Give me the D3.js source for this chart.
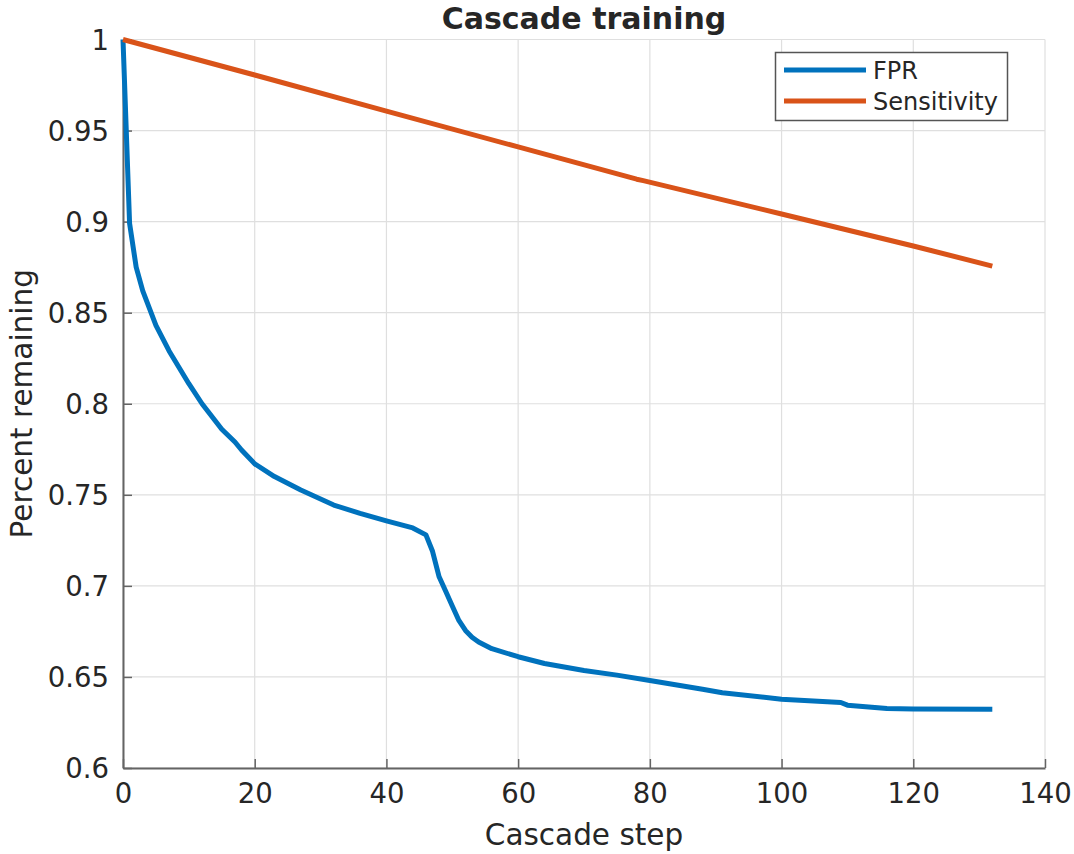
<!DOCTYPE html>
<html><head><meta charset="utf-8">
<script src="https://cdn.jsdelivr.net/npm/d3@7"></script>
<style>
body{margin:0;background:#fff;}
text{font-family:"DejaVu Sans",sans-serif;fill:#262626;}
</style></head>
<body><svg id="c" width="1074" height="854"></svg>
<script>
const fprX = [0,1,2,3,5,7,10,12,15,17,18,20,23,27,32,36,40,44,46,47,48,49,50,51,52,53,54,56,60,64,70,75,80,88,91,100,109,110,116,120,132];
const fprY = [1.0,0.899,0.875,0.862,0.843,0.829,0.811,0.800,0.786,0.779,0.7746,0.767,0.760,0.7526,0.7444,0.7398,0.7357,0.7318,0.728,0.719,0.705,0.697,0.689,0.681,0.6755,0.6718,0.6692,0.6655,0.6611,0.6574,0.6535,0.651,0.648,0.6432,0.6413,0.6378,0.636,0.6345,0.6327,0.6324,0.6322];
const sensX = [0,20,40,60,78,79,100,120,132];
const sensY = [1.0,0.9805,0.9607,0.941,0.9233,0.9225,0.9042,0.8866,0.8756];
const xTicks = [0,20,40,60,80,100,120,140];
const yTicks = [0.6,0.65,0.7,0.75,0.8,0.85,0.9,0.95,1];
const seriesNames = ["FPR","Sensitivity"];
const colors = ["#0072BD","#D95319"];

const svg = d3.select("#c");
const L=123, R=1045, T=39.5, B=768;
const x = d3.scaleLinear().domain([0,140]).range([L,R]);
const y = d3.scaleLinear().domain([0.6,1]).range([B,T]);

// grid
const g = svg.append("g");
g.selectAll(".gx").data(xTicks).join("line")
 .attr("x1",d=>x(d)).attr("x2",d=>x(d)).attr("y1",T).attr("y2",B)
 .attr("stroke","#dfdfdf").attr("stroke-width",1.2);
g.selectAll(".gy").data(yTicks).join("line")
 .attr("y1",d=>y(d)).attr("y2",d=>y(d)).attr("x1",L).attr("x2",R)
 .attr("stroke","#dfdfdf").attr("stroke-width",1.2);

// axes
const xAxis = d3.axisBottom(x).tickValues(xTicks).tickSizeInner(-9).tickSizeOuter(0).tickPadding(18).tickFormat(d3.format("d"));
const yAxis = d3.axisLeft(y).tickValues(yTicks).tickSizeInner(-9).tickSizeOuter(0).tickPadding(14).tickFormat(d=>String(+d.toFixed(2)));
const gx = svg.append("g").attr("transform",`translate(0,${B})`).call(xAxis);
const gy = svg.append("g").attr("transform",`translate(${L},0)`).call(yAxis);
[gx,gy].forEach(a=>{
  a.select(".domain").attr("stroke","#646464").attr("stroke-width",2);
  a.selectAll(".tick line").attr("stroke","#646464").attr("stroke-width",1.5);
  a.selectAll(".tick text").style("font-family","DejaVu Sans").style("font-size","27.5px").attr("fill","#262626");
});
gx.selectAll(".tick text").attr("dy","0.6em");
gy.selectAll(".tick text").attr("dy","0.36em");

// lines
const line = d3.line().x(d=>x(d[0])).y(d=>y(d[1]));
const fprData = fprX.map((v,i)=>[v,fprY[i]]);
const sensData = sensX.map((v,i)=>[v,sensY[i]]);
svg.append("path").datum(fprData).attr("d",line).attr("fill","none")
 .attr("stroke",colors[0]).attr("stroke-width",5).attr("stroke-linejoin","round");
svg.append("path").datum(sensData).attr("d",line).attr("fill","none")
 .attr("stroke",colors[1]).attr("stroke-width",5).attr("stroke-linejoin","round");

// title & labels
svg.append("text").attr("x",(L+R)/2).attr("y",29).attr("text-anchor","middle")
 .style("font-size","30px").style("font-weight","bold").attr("fill","#000").text("Cascade training");
svg.append("text").attr("x",(L+R)/2).attr("y",845).attr("text-anchor","middle")
 .style("font-size","29.5px").text("Cascade step");
svg.append("text").attr("transform",`translate(32,${(T+B)/2}) rotate(-90)`).attr("text-anchor","middle")
 .style("font-size","29.5px").text("Percent remaining");

// legend
const lg = svg.append("g");
lg.append("rect").attr("x",775.5).attr("y",52.5).attr("width",232).attr("height",68)
 .attr("fill","#fff").attr("stroke","#555").attr("stroke-width",1.5);
seriesNames.forEach((n,i)=>{
  const yy = 70 + i*31;
  lg.append("line").attr("x1",784).attr("x2",866).attr("y1",yy).attr("y2",yy)
    .attr("stroke",colors[i]).attr("stroke-width",5);
  lg.append("text").attr("x",873).attr("y",yy).attr("dy","0.36em").style("font-size","24px").text(n);
});
</script></body></html>
